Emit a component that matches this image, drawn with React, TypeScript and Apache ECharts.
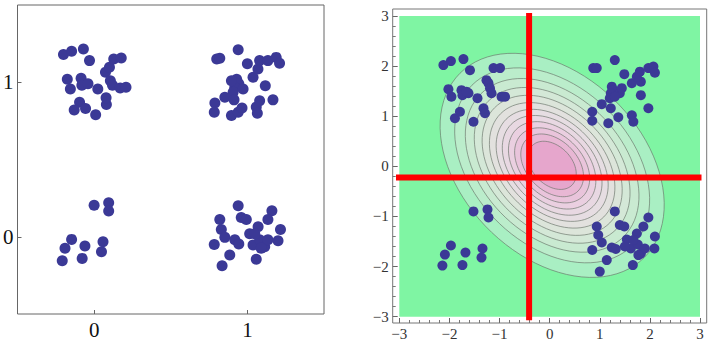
import React, { useEffect, useRef } from "react";
import * as echarts from "echarts";

// ---------- Left panel data ----------
const leftTicks = [0, 1];
const leftTopLeft = [
  [-0.2, 1.18], [-0.147, 1.2], [-0.07, 1.215], [-0.03, 1.14], [-0.175, 1.02], [-0.155, 0.957],
  [-0.085, 1.026], [-0.08, 0.98], [-0.04, 0.99], [-0.095, 0.87], [-0.13, 0.82], [-0.056, 0.83],
  [0.01, 0.79], [0.024, 0.957], [0.08, 0.856], [0.078, 0.9], [0.074, 1.065], [0.1, 1.097],
  [0.106, 1.01], [0.12, 0.98], [0.128, 1.15], [0.177, 1.157], [0.17, 0.963], [0.208, 0.968],
];
const leftTopRight = [
  [0.8, 1.15], [0.82, 1.155], [0.94, 1.21], [1.0, 1.12], [0.93, 1.02], [0.944, 0.99],
  [0.918, 0.968], [0.907, 0.935], [0.972, 0.957], [0.853, 0.903], [0.913, 0.886], [0.788, 0.865],
  [0.784, 0.806], [0.896, 0.785], [0.94, 0.806], [0.965, 0.834], [1.058, 0.839], [1.065, 0.8],
  [1.08, 0.88], [1.167, 0.886], [1.117, 0.978], [1.037, 1.032], [1.069, 1.086], [1.08, 1.14],
  [1.134, 1.14], [1.188, 1.161], [1.21, 1.123], [0.896, 1.01],
];
const leftBottomLeft = [
  [0.0, 0.204], [0.095, 0.22], [0.095, 0.166], [-0.147, -0.017], [-0.19, -0.075],
  [-0.208, -0.155], [-0.06, -0.06], [-0.078, -0.14], [0.058, -0.032], [0.048, -0.097],
];
const leftBottomRight = [
  [0.94, 0.2], [0.82, 0.112], [0.83, 0.047], [0.853, -0.004], [0.784, -0.05], [0.885, -0.118],
  [0.835, -0.187], [0.918, -0.02], [0.944, -0.047], [0.96, 0.125], [0.993, 0.112], [1.015, 0.02],
  [1.07, 0.065], [1.037, -0.054], [1.08, -0.02], [1.113, -0.065], [1.134, -0.02], [1.2, -0.026],
  [1.216, 0.047], [1.16, 0.168], [1.134, 0.112], [1.058, -0.146], [1.09, -0.075], [1.048, 0.02],
];

// ---------- Right panel data ----------
const rightTopLeft = [
  [-2.12, 2.02], [-1.97, 2.1], [-1.72, 2.14], [-1.59, 1.92], [-2.02, 1.54], [-1.96, 1.39],
  [-1.76, 1.52], [-1.74, 1.42], [-1.62, 1.46], [-1.89, 0.96], [-1.79, 1.09], [-1.52, 0.89],
  [-1.44, 1.36], [-1.32, 1.16], [-1.29, 1.06], [-1.26, 1.72], [-1.22, 1.66], [-1.19, 1.56],
  [-1.16, 1.46], [-1.12, 1.96], [-0.99, 1.96], [-0.96, 1.39], [-0.89, 1.39], [-1.66, 1.49],
];
const rightTopRight = [
  [0.87, 1.96], [0.94, 1.96], [1.3, 2.12], [1.49, 1.84], [1.24, 1.59], [1.27, 1.52],
  [1.22, 1.46], [1.2, 1.36], [1.4, 1.46], [1.04, 1.24], [1.22, 1.16], [0.85, 1.09],
  [0.85, 0.91], [1.17, 0.86], [1.37, 0.98], [1.64, 1.02], [1.67, 0.89], [1.82, 1.42],
  [1.97, 1.16], [1.82, 1.69], [1.64, 1.66], [1.74, 1.79], [1.8, 1.89], [1.97, 1.96],
  [2.07, 1.99], [2.1, 1.87], [1.3, 1.39], [1.44, 1.56],
];
const rightBottomLeft = [
  [-1.52, -0.9], [-1.24, -0.86], [-1.22, -1.02], [-1.97, -1.58], [-2.09, -1.76],
  [-2.14, -1.98], [-1.68, -1.72], [-1.74, -1.97], [-1.34, -1.64], [-1.36, -1.82],
];
const rightBottomRight = [
  [1.3, -0.9], [0.94, -1.2], [0.97, -1.37], [1.04, -1.52], [0.85, -1.67], [1.14, -1.87],
  [1.0, -2.1], [1.24, -1.62], [1.32, -1.65], [1.4, -1.17], [1.49, -1.2], [1.54, -1.46],
  [1.74, -1.34], [1.62, -1.64], [1.76, -1.56], [1.82, -1.74], [1.9, -1.64], [2.1, -1.4],
  [2.09, -1.64], [1.97, -1.02], [1.87, -1.2], [1.66, -1.97], [1.77, -1.77], [1.67, -1.47],
  [1.5, -1.6],
];

// contour ellipses (outer to inner)
const ellipseCenter = [0.05, 0.02];
const ellipseAxes = [2.6, 1.8];
const ellipseAngleDeg = -45;
const contourLevels = [1.0, 0.87, 0.775, 0.695, 0.625, 0.56, 0.5, 0.445, 0.39, 0.335, 0.28, 0.215];
const contourColors = [
  "#a9efc3", "#bbedcb", "#c9ead1", "#d4e8d7", "#dce5da", "#e2e1de", "#e6dde2",
  "#e8d8e2", "#eacfe0", "#e9c4db", "#e8b7d4", "#e6a6cc",
];

// red cross lines
const redVertical = [[-0.41, -3.07], [-0.41, 3.06]];
const redHorizontal = [[-3.07, -0.22], [3.03, -0.22]];

const DOT = "#3b3996";
const SERIF = "Liberation Serif";
const fmtMinus = (v: number) => String(v).replace("-", "\u2212");

export default function App() {
  const ref = useRef<HTMLDivElement>(null);
  useEffect(() => {
    if (!ref.current) return;
    const chart = echarts.init(ref.current, null, { renderer: "svg" });
    const theta = (ellipseAngleDeg * Math.PI) / 180;
    const contourData = contourLevels.map((s, i) => [s, i]);

    const leftScatter = (data: number[][]) => ({
      type: "scatter",
      xAxisIndex: 0,
      yAxisIndex: 0,
      data,
      symbolSize: 11,
      itemStyle: { color: DOT, opacity: 1 },
      z: 5,
    });
    const rightScatter = (data: number[][]) => ({
      type: "scatter",
      xAxisIndex: 1,
      yAxisIndex: 1,
      data,
      symbolSize: 10,
      itemStyle: { color: DOT, opacity: 1 },
      z: 6,
    });

    chart.setOption({
      animation: false,
      backgroundColor: "#ffffff",
      grid: [
        { left: 15, top: 5, width: 309, height: 309, show: true, borderColor: "#666", borderWidth: 1, backgroundColor: "transparent" },
        { left: 399.3, top: 16, width: 300.7, height: 300.7, show: true, borderWidth: 0, backgroundColor: "#7ff5a3" },
      ],
      xAxis: [
        {
          type: "value", gridIndex: 0, min: -0.5, max: 1.5, interval: 0.5,
          splitLine: { show: false }, axisLine: { show: false, onZero: false },
          axisTick: { show: true, inside: true, length: 4, customValues: leftTicks, lineStyle: { color: "#666" } },
          axisLabel: { customValues: leftTicks, fontFamily: SERIF, fontSize: 21, color: "#111", margin: 5 },
        },
        {
          type: "value", gridIndex: 1, min: -3, max: 3, interval: 1, offset: 6.3,
          splitLine: { show: false }, axisLine: { show: false, onZero: false },
          axisTick: { show: true, inside: true, length: 5, lineStyle: { color: "#666" } },
          minorTick: { show: true, splitNumber: 5, length: 3, lineStyle: { color: "#777" } },
          axisLabel: { fontFamily: SERIF, fontSize: 15, color: "#333", margin: 3, formatter: fmtMinus },
        },
      ],
      yAxis: [
        {
          type: "value", gridIndex: 0, min: -0.5, max: 1.5, interval: 0.5,
          splitLine: { show: false }, axisLine: { show: false, onZero: false },
          axisTick: { show: true, inside: true, length: 4, customValues: leftTicks, lineStyle: { color: "#666" } },
          axisLabel: { customValues: leftTicks, fontFamily: SERIF, fontSize: 21, color: "#111", margin: 4 },
        },
        {
          type: "value", gridIndex: 1, min: -3, max: 3, interval: 1, offset: 6.6,
          splitLine: { show: false }, axisLine: { show: false, onZero: false },
          axisTick: { show: true, inside: true, length: 5, lineStyle: { color: "#666" } },
          minorTick: { show: true, splitNumber: 5, length: 3, lineStyle: { color: "#777" } },
          axisLabel: { fontFamily: SERIF, fontSize: 15, color: "#333", margin: 4, formatter: fmtMinus },
        },
      ],
      graphic: [
        {
          type: "rect",
          shape: { x: 392.7, y: 9, width: 314, height: 314 },
          style: { fill: "none", stroke: "#777", lineWidth: 1 },
          z: 100,
        },
      ],
      series: [
        leftScatter(leftTopLeft),
        leftScatter(leftTopRight),
        leftScatter(leftBottomLeft),
        leftScatter(leftBottomRight),
        {
          type: "custom",
          xAxisIndex: 1,
          yAxisIndex: 1,
          data: contourData,
          z: 2,
          renderItem: (params: any, api: any) => {
            const s = api.value(0);
            const idx = api.value(1);
            const pts: number[][] = [];
            const n = 90;
            for (let k = 0; k < n; k++) {
              const t = (2 * Math.PI * k) / n;
              const lx = s * ellipseAxes[0] * Math.cos(t);
              const ly = s * ellipseAxes[1] * Math.sin(t);
              const x = ellipseCenter[0] + lx * Math.cos(theta) - ly * Math.sin(theta);
              const y = ellipseCenter[1] + lx * Math.sin(theta) + ly * Math.cos(theta);
              pts.push(api.coord([x, y]));
            }
            return {
              type: "polygon",
              shape: { points: pts },
              style: { fill: contourColors[idx], stroke: "rgba(105,115,105,0.65)", lineWidth: 1 },
            };
          },
        },
        {
          type: "line", xAxisIndex: 1, yAxisIndex: 1, data: redVertical, symbol: "none", clip: false,
          lineStyle: { color: "#ff0000", width: 6 }, z: 4,
        },
        {
          type: "line", xAxisIndex: 1, yAxisIndex: 1, data: redHorizontal, symbol: "none", clip: false,
          lineStyle: { color: "#ff0000", width: 6 }, z: 4,
        },
        rightScatter(rightTopLeft),
        rightScatter(rightTopRight),
        rightScatter(rightBottomLeft),
        rightScatter(rightBottomRight),
      ],
    });
    return () => chart.dispose();
  }, []);
  return (
    <div
      ref={ref}
      style={{ position: "fixed", left: 0, top: 0, width: 709, height: 355, background: "#fff" }}
    />
  );
}
